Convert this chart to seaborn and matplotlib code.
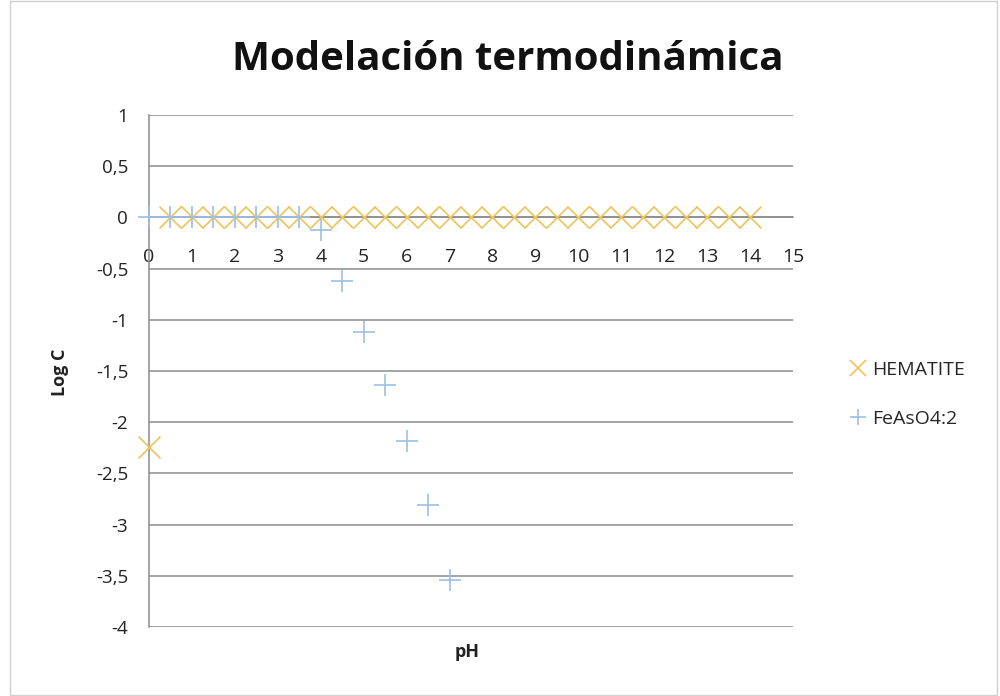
import matplotlib
matplotlib.use("Agg")
import matplotlib.pyplot as plt
import seaborn as sns
import pandas as pd
from matplotlib.lines import Line2D
from matplotlib.patches import Rectangle

sns.set_theme(style="white")
plt.rcParams['font.family'] = ['Open Sans', 'DejaVu Sans']

# Data
hematite_ph = [0.0, 0.5, 1.0, 1.5, 2.0, 2.5, 3.0, 3.5, 4.0, 4.5, 5.0, 5.5, 6.0, 6.5, 7.0,
               7.5, 8.0, 8.5, 9.0, 9.5, 10.0, 10.5, 11.0, 11.5, 12.0, 12.5, 13.0, 13.5, 14.0]
hematite_logc = [-2.24, 0, 0, 0, 0, 0, 0, 0, 0, 0, 0, 0, 0, 0, 0,
                 0, 0, 0, 0, 0, 0, 0, 0, 0, 0, 0, 0, 0, 0]
feaso4_ph = [0.0, 0.5, 1.0, 1.5, 2.0, 2.5, 3.0, 3.5, 4.0, 4.5, 5.0, 5.5, 6.0, 6.5, 7.0]
feaso4_logc = [0, 0, 0, 0, 0, 0, 0, 0, -0.12, -0.62, -1.12, -1.64, -2.18, -2.81, -3.54]

x_ticks = list(range(0, 16))
y_ticks = [1, 0.5, 0, -0.5, -1, -1.5, -2, -2.5, -3, -3.5, -4]

c_hem = "#EEC45A"
c_fe = "#9DBFE6"
grid_c = "#8C8C8C"

fig = plt.figure(figsize=(10, 6.96), dpi=100)
ax = fig.add_axes([0.149, 0.099, 0.644, 0.736])

df_h = pd.DataFrame({"pH": hematite_ph, "LogC": hematite_logc})
df_f = pd.DataFrame({"pH": feaso4_ph, "LogC": feaso4_logc})

sns.scatterplot(data=df_h, x="pH", y="LogC", marker="x", s=250, color=c_hem,
                linewidth=1.2, ax=ax, zorder=3, clip_on=False)
sns.scatterplot(data=df_f, x="pH", y="LogC", marker="+", s=230, color=c_fe,
                linewidth=1.2, ax=ax, zorder=4, clip_on=False)

for s in ["top", "right"]:
    ax.spines[s].set_visible(False)
ax.spines["left"].set_color(grid_c)
ax.spines["left"].set_linewidth(1.1)
ax.spines["bottom"].set_position(("data", 0))
ax.spines["bottom"].set_color(grid_c)
ax.spines["bottom"].set_linewidth(1.1)

ax.set_xlim(0, 15)
ax.set_ylim(-4, 1)
ax.set_xticks(x_ticks)
ax.set_yticks(y_ticks)
ax.set_yticklabels([("%g" % v).replace(".", ",") for v in y_ticks], fontsize=13.5)
ax.set_xticklabels([str(v) for v in x_ticks], fontsize=14)
ax.tick_params(axis="y", length=0, pad=15, colors="#222222")
ax.tick_params(axis="x", length=0, pad=22, colors="#222222")

ax.yaxis.grid(True, color=grid_c, linewidth=1.1)
ax.xaxis.grid(False)
ax.set_axisbelow(True)

ax.set_xlabel("")
ax.set_ylabel("")
fig.text(0.467, 0.063, "pH", ha="center", va="center", fontsize=13, fontweight="bold", color="#222222")
fig.text(0.060, 0.465, "Log C", ha="center", va="center", fontsize=13, fontweight="bold",
         rotation=90, color="#222222")
fig.text(0.508, 0.915, "Modelación termodinámica", ha="center", va="center", fontsize=29,
         fontweight="bold", color="#111111")

handles = [Line2D([], [], marker="x", linestyle="none", color=c_hem, markersize=12, markeredgewidth=1.2),
           Line2D([], [], marker="+", linestyle="none", color=c_fe, markersize=12, markeredgewidth=1.2)]
fig.legend(handles, ["HEMATITE", "FeAsO4:2"], loc="center left", bbox_to_anchor=(0.829, 0.433),
           frameon=False, fontsize=14, handletextpad=0.1, labelspacing=1.6, handlelength=1.2)

fig.patches.append(Rectangle((0.010, 0.001), 0.987, 0.998, transform=fig.transFigure,
                             fill=False, edgecolor="#D0D0D0", linewidth=1.0))

fig.savefig("out.png", dpi=100)
